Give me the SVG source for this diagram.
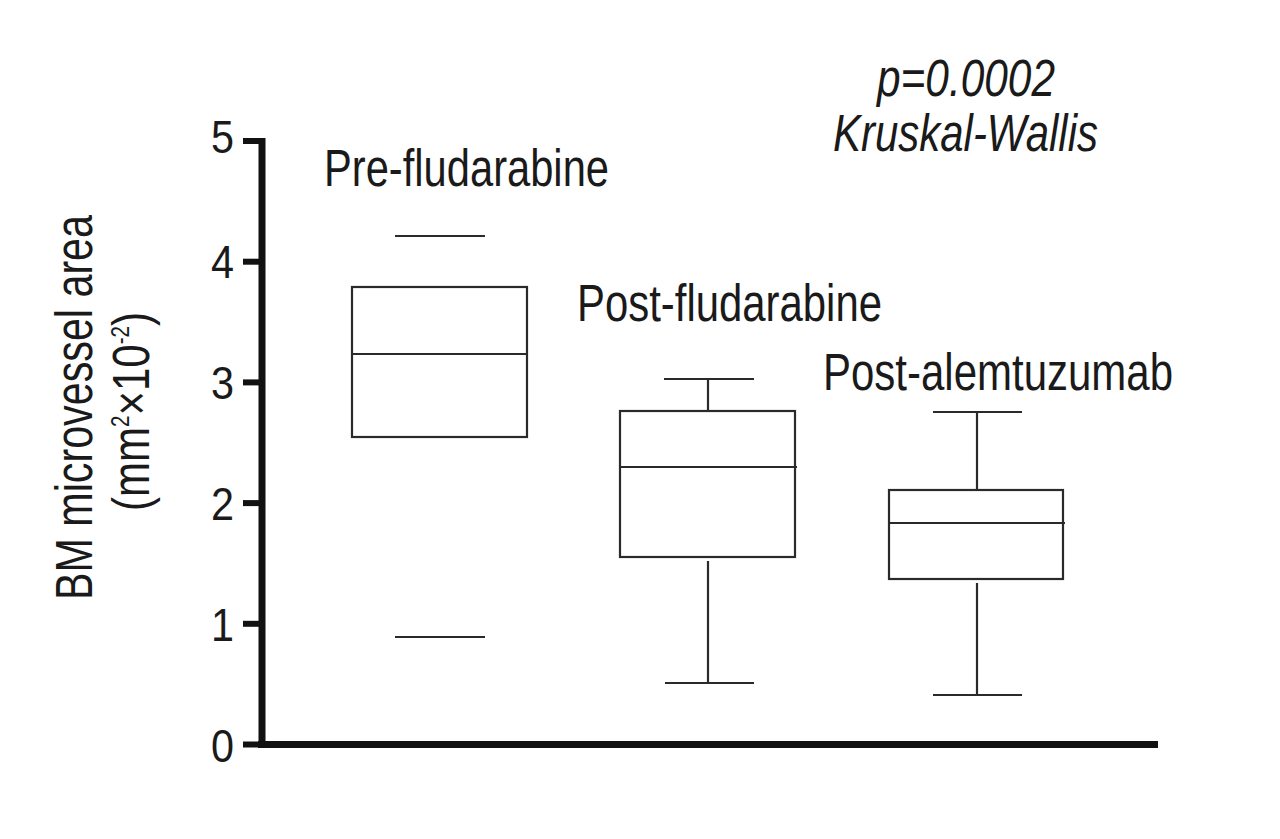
<svg xmlns="http://www.w3.org/2000/svg" width="1280" height="839" viewBox="0 0 1280 839">
<style>
.t{font-family:"Liberation Sans",Arial,sans-serif;fill:#1a1a1a;font-size:51px}
.i{font-style:italic}
.tick{font-family:"Liberation Sans",Arial,sans-serif;fill:#1a1a1a;font-size:47px}
.ax{stroke:#111;stroke-width:7;fill:none}
.tk{stroke:#111;stroke-width:6;fill:none}
.bx{stroke:#2a2a2a;stroke-width:2.2;fill:none}
.sup{font-size:25px}
</style>
<rect width="1280" height="839" fill="#fff"/>
<g id="axes">
  <line class="ax" x1="262" y1="138" x2="262" y2="748"/>
  <line class="ax" x1="258" y1="744.5" x2="1158" y2="744.5"/>
  <line class="tk" x1="243" y1="141" x2="262" y2="141"/>
  <line class="tk" x1="243" y1="261.7" x2="262" y2="261.7"/>
  <line class="tk" x1="243" y1="382.4" x2="262" y2="382.4"/>
  <line class="tk" x1="243" y1="503.1" x2="262" y2="503.1"/>
  <line class="tk" x1="243" y1="623.8" x2="262" y2="623.8"/>
  <line class="tk" x1="243" y1="744.5" x2="262" y2="744.5"/>
  <text class="tick" x="211" y="153" textLength="23" lengthAdjust="spacingAndGlyphs">5</text>
  <text class="tick" x="211" y="278" textLength="23" lengthAdjust="spacingAndGlyphs">4</text>
  <text class="tick" x="211" y="399" textLength="23" lengthAdjust="spacingAndGlyphs">3</text>
  <text class="tick" x="211" y="520" textLength="23" lengthAdjust="spacingAndGlyphs">2</text>
  <text class="tick" x="211" y="641" textLength="23" lengthAdjust="spacingAndGlyphs">1</text>
  <text class="tick" x="211" y="762" textLength="23" lengthAdjust="spacingAndGlyphs">0</text>
</g>
<g id="ylabel">
  <text class="t" transform="translate(92,600) rotate(-90)" x="0" y="0" textLength="385" lengthAdjust="spacingAndGlyphs">BM microvessel area</text>
  <text class="t" transform="translate(149,511) rotate(-90)" x="0" y="0" textLength="199" lengthAdjust="spacingAndGlyphs">(mm<tspan class="sup" dy="-20">2</tspan><tspan dy="20">×10</tspan><tspan class="sup" dy="-20">-2</tspan><tspan dy="20">)</tspan></text>
</g>
<g id="stats">
  <text class="t i" x="877" y="96" textLength="178" lengthAdjust="spacingAndGlyphs">p=0.0002</text>
  <text class="t i" x="833" y="151" textLength="265" lengthAdjust="spacingAndGlyphs">Kruskal-Wallis</text>
</g>
<g id="pre-fludarabine">
  <text class="t" x="324" y="186" textLength="285" lengthAdjust="spacingAndGlyphs">Pre-fludarabine</text>
  <rect class="bx" x="352" y="287" width="175" height="150"/>
  <line class="bx" x1="352" y1="354" x2="527" y2="354"/>
  <line class="bx" x1="395" y1="236" x2="485" y2="236"/>
  <line class="bx" x1="395" y1="637" x2="485" y2="637"/>
</g>
<g id="post-fludarabine">
  <text class="t" x="577" y="321" textLength="305" lengthAdjust="spacingAndGlyphs">Post-fludarabine</text>
  <rect class="bx" x="620" y="411" width="175" height="146"/>
  <line class="bx" x1="621" y1="467" x2="797" y2="467"/>
  <line class="bx" x1="664" y1="379" x2="754" y2="379"/>
  <line class="bx" x1="708" y1="379" x2="708" y2="411"/>
  <line class="bx" x1="708" y1="561" x2="708" y2="683"/>
  <line class="bx" x1="665" y1="683" x2="754" y2="683"/>
</g>
<g id="post-alemtuzumab">
  <text class="t" x="823" y="390" textLength="350" lengthAdjust="spacingAndGlyphs">Post-alemtuzumab</text>
  <rect class="bx" x="889" y="490" width="174" height="89"/>
  <line class="bx" x1="889" y1="523" x2="1065" y2="523"/>
  <line class="bx" x1="933" y1="412" x2="1022" y2="412"/>
  <line class="bx" x1="977" y1="412" x2="977" y2="490"/>
  <line class="bx" x1="977" y1="583" x2="977" y2="695"/>
  <line class="bx" x1="933" y1="695" x2="1022" y2="695"/>
</g>
<g id="connectors"></g>
</svg>
